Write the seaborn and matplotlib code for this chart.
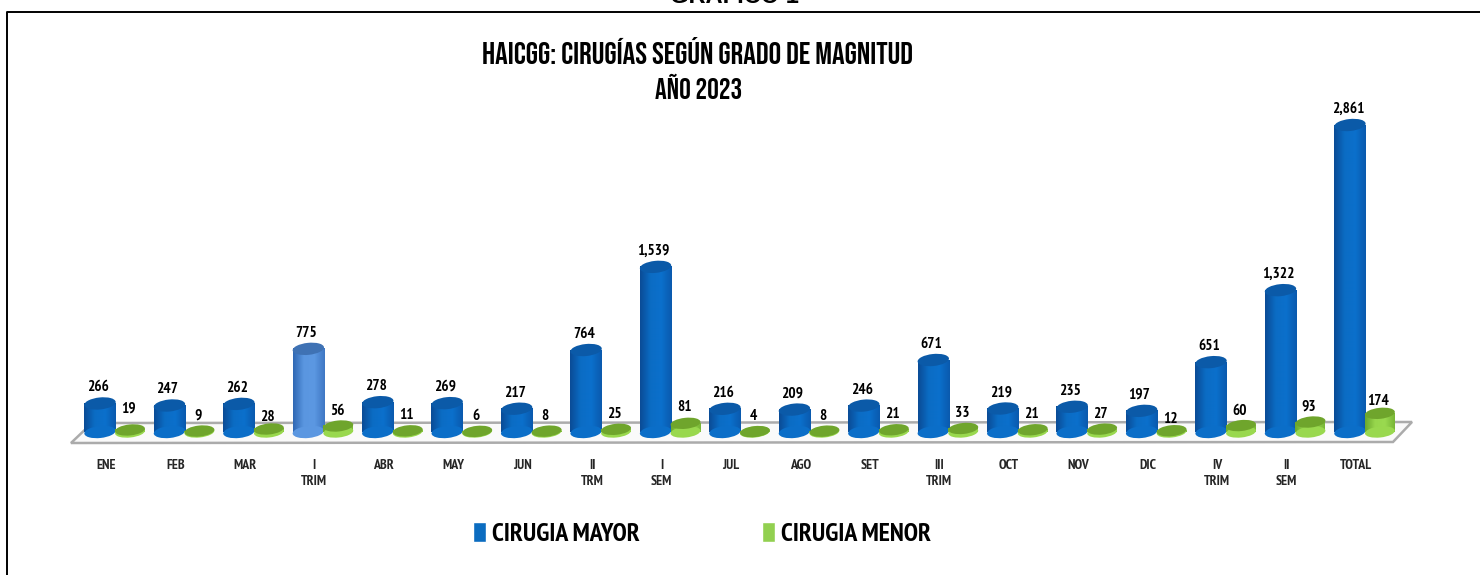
# HAICGG surgeries by magnitude, 2023

import numpy as np
import pandas as pd
import seaborn as sns
import matplotlib.pyplot as plt
from matplotlib.colors import LinearSegmentedColormap
from matplotlib.patches import Ellipse, Polygon
from matplotlib.lines import Line2D
from matplotlib.transforms import ScaledTranslation, IdentityTransform

categories = ['ENE', 'FEB', 'MAR', 'I\nTRIM', 'ABR', 'MAY', 'JUN', 'II\nTRM', 'I\nSEM', 'JUL',
              'AGO', 'SET', 'III\nTRIM', 'OCT', 'NOV', 'DIC', 'IV\nTRIM', 'II\nSEM', 'TOTAL']
mayor = [266, 247, 262, 775, 278, 269, 217, 764, 1539, 216, 209, 246, 671, 219, 235, 197, 651, 1322, 2861]
menor = [19, 9, 28, 56, 11, 6, 8, 25, 81, 4, 8, 21, 33, 21, 27, 12, 60, 93, 174]

W, H = 1480, 575
BASE_Y = 432  # pixel row of the zero line
PX_PER_UNIT = 0.1073
STEP = 69.44  # pixels between categories
FIRST_X = 115  # pixel column of the first group centre
NARROW = ['PT Sans Narrow', 'Archivo Narrow', 'Open Sans', 'DejaVu Sans']
TITLE_FONT = ['Bebas Neue', 'PT Sans Narrow', 'Liberation Sans', 'DejaVu Sans']

sns.set_theme(style='white')
plt.rcParams['font.family'] = NARROW
plt.rcParams['font.weight'] = 'bold'

df = pd.DataFrame({'cat': categories * 2,
                   'n': mayor + menor,
                   'tipo': ['CIRUGIA MAYOR'] * len(mayor) + ['CIRUGIA MENOR'] * len(menor)})

fig = plt.figure(figsize=(W / 100, H / 100), dpi=100, facecolor='white')
ax = fig.add_axes([0, (H - BASE_Y) / H, 1, BASE_Y / H])
ax.patch.set_visible(False)

sns.barplot(data=df, x='cat', y='n', hue='tipo', order=categories, width=0.864, gap=0, saturation=1,
            palette={'CIRUGIA MAYOR': '#0B6CC0', 'CIRUGIA MENOR': '#92D050'}, ax=ax, zorder=2)

ax.set_xlim(-FIRST_X / STEP, (W - FIRST_X) / STEP)
ax.set_ylim(0, BASE_Y / PX_PER_UNIT)


def fpx(x, y):
    return x / W, 1 - y / H


# platform and outer frame
floor = Polygon([fpx(71, 443), fpx(92, 423), fpx(1412, 422), fpx(1393, 442)], closed=True,
                transform=fig.transFigure, facecolor='#FAFAFA', edgecolor='#ABABAB', linewidth=1.8, zorder=-2)
fig.add_artist(floor)
fig.add_artist(Line2D(*zip(fpx(7, 575), fpx(7, 12), fpx(1480, 12)), transform=fig.transFigure,
                      color='black', linewidth=1.4))

side_blue = LinearSegmentedColormap.from_list('b', ['#0A4C96', '#0B6CC4', '#0B70CC', '#0A5AAE'])
side_light = LinearSegmentedColormap.from_list('l', ['#2F68B4', '#5A96E0', '#5C98E2', '#3F78C4'])
side_green = LinearSegmentedColormap.from_list('g', ['#6BA82E', '#97D64C', '#9ADA50', '#78B636'])
ramp = np.linspace(0, 1, 64)[None, :]


def tilted(cx, y, w_px, h_px, color, z):
    px, py = ax.transData.transform((cx, y))
    ax.add_artist(Ellipse((px, py), w_px, h_px, angle=6, transform=IdentityTransform(),
                          facecolor=color, edgecolor='none', zorder=z, clip_on=False))


def cylinder(patch, cmap, top_color, ell_px, widen=1.0):
    w = patch.get_width() * widen
    cx = patch.get_x() + patch.get_width() / 2
    h = patch.get_height()
    w_px = w * STEP
    patch.set_visible(False)
    ax.imshow(ramp, extent=[cx - w / 2, cx + w / 2, 0, h], cmap=cmap, aspect='auto', zorder=3)
    tilted(cx, 0, w_px, ell_px, cmap(0.5), 3)
    tilted(cx, h, w_px, ell_px, top_color, 4)


for i, patch in enumerate(ax.containers[0]):
    if categories[i] == 'I\nTRIM':
        cylinder(patch, side_light, '#3F72B4', 12, 1.05)
    else:
        cylinder(patch, side_blue, '#0B5AA8', 12, 1.05)
    ax.annotate(f'{mayor[i]:,}', (patch.get_x() + patch.get_width() / 2, mayor[i]),
                xytext=(-1.5, 6.5), textcoords='offset points', ha='center', va='bottom',
                fontsize=11, color='black', annotation_clip=False, zorder=6)

green_nudge = {0: 6, 2: -3, 8: 1, 15: -4, 16: -1, 18: -3}
for i, patch in enumerate(ax.containers[1]):
    cylinder(patch, side_green, '#6FA52C', 11)
    dy = 6 + green_nudge.get(i, 0) * 0.72
    ax.annotate(f'{menor[i]:,}', (patch.get_x() + patch.get_width() / 2, menor[i]),
                xytext=(-1, dy), textcoords='offset points', ha='center', va='bottom',
                fontsize=11, color='black', annotation_clip=False, zorder=6)

ax.set_xlim(-FIRST_X / STEP, (W - FIRST_X) / STEP)
ax.set_ylim(0, BASE_Y / PX_PER_UNIT)
ax.set_xlabel('')
ax.set_ylabel('')
ax.set_yticks([])
ax.tick_params(axis='x', length=0, pad=19.5, labelsize=10)
shift = ScaledTranslation(-9 / 100, 0, fig.dpi_scale_trans)
for lab in ax.get_xticklabels():
    lab.set_transform(lab.get_transform() + shift)
    lab.set_linespacing(1.3)
sns.despine(ax=ax, left=True, bottom=True)

# legend
sns.move_legend(ax, 'center', bbox_to_anchor=fpx(702, 534), bbox_transform=fig.transFigure, ncols=2,
                title=None, frameon=False, fontsize=18.6, handlelength=0.52, handleheight=0.78,
                columnspacing=4.7, handletextpad=0.25)
for t in ax.get_legend().get_texts():
    t.set_fontweight('bold')
    t.set_color('black')

# titles
fig.text(*fpx(697, 51), 'HAICGG: CIRUGÍAS SEGÚN GRADO DE MAGNITUD', ha='center', va='center',
         fontsize=22.6, color='black', family=TITLE_FONT)
fig.text(*fpx(699, 86), 'AÑO 2023', ha='center', va='center', fontsize=21, color='black', family=TITLE_FONT)
fig.text(*fpx(734, 3), 'GRÁFICO 1', ha='center', va='baseline', fontsize=17, color='black',
         family=['Liberation Sans', 'DejaVu Sans'])

fig.savefig('out.png', dpi=100)
